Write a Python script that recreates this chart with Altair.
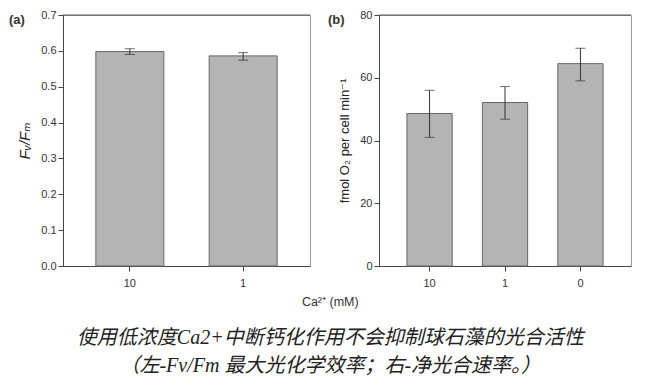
import altair as alt
import pandas as pd

# ---- data ----
ca_left = ["10", "1"]
fvfm = [0.598, 0.586]
fvfm_lo = [0.590, 0.574]
fvfm_hi = [0.606, 0.595]

ca_right = ["10", "1", "0"]
o2 = [48.6, 52.1, 64.5]
o2_lo = [41.0, 46.8, 59.0]
o2_hi = [56.0, 57.2, 69.4]

left_ticks = [0.0, 0.1, 0.2, 0.3, 0.4, 0.5, 0.6, 0.7]
right_ticks = [0, 20, 40, 60, 80]

caption = [
    "使用低浓度Ca2+中断钙化作用不会抑制球石藻的光合活性",
    "（左-Fv/Fm 最大光化学效率；右-净光合速率。）",
]

BAR_FILL = "#b4b4b4"
BAR_STROKE = "#666666"
ERR = "#333333"


def panel(cats, vals, lo, hi, ticks, domain, fmt, ytitle, tstyle, tsize, label, w, h,
          p_inner, p_outer, label_x, cap):
    df = pd.DataFrame({"ca": cats, "v": vals, "lo": lo, "hi": hi})
    base = alt.Chart(df)
    x = alt.X("ca:N", sort=cats, title=None,
              scale=alt.Scale(paddingInner=p_inner, paddingOuter=p_outer),
              axis=alt.Axis(labelAngle=0, labelPadding=6))
    yaxis = alt.Axis(values=ticks, format=fmt, title=ytitle,
                     titleFontStyle=tstyle, titleFontSize=tsize,
                     grid=False, titlePadding=8)
    yscale = alt.Scale(domain=domain, nice=False, zero=True)

    def Y(field):
        return alt.Y(field, scale=yscale, axis=yaxis, title=ytitle)

    bars = base.mark_bar(fill=BAR_FILL, stroke=BAR_STROKE, strokeWidth=1).encode(
        x=x, y=Y("v:Q"))
    rule = base.mark_rule(color=ERR, strokeWidth=1).encode(
        x=x, y=Y("lo:Q"), y2="hi:Q")
    cap_lo = base.mark_tick(color=ERR, thickness=1, size=cap).encode(x=x, y=Y("lo:Q"))
    cap_hi = base.mark_tick(color=ERR, thickness=1, size=cap).encode(x=x, y=Y("hi:Q"))
    one = alt.Chart(pd.DataFrame({"t": [label]}))
    top = one.mark_rule(color="#555555", strokeWidth=1).encode(
        x=alt.value(0), x2=alt.value(w), y=alt.value(0))
    lab = one.mark_text(font="Liberation Sans", fontSize=13, fontWeight="bold",
                        align="left", baseline="middle", color="#333333").encode(
        x=alt.value(label_x), y=alt.value(5), text="t:N")
    return alt.layer(bars, rule, cap_lo, cap_hi, top, lab).properties(width=w, height=h)


left = panel(ca_left, fvfm, fvfm_lo, fvfm_hi, left_ticks, [0, 0.7], ".1f",
             "Fᵥ/Fₘ", "italic", 15, "(a)", 247, 251, 0.4, 0.29, -54, 10)
right = panel(ca_right, o2, o2_lo, o2_hi, right_ticks, [0, 80], "d",
              "fmol O₂ per cell min⁻¹", "normal", 13, "(b)", 252, 251, 0.4, 0.37, -51, 10)

chart = alt.hconcat(left, right, spacing=16).properties(
    padding=0,
    title=alt.TitleParams(
        text="Ca²⁺ (mM)",
        subtitle=caption,
        orient="bottom",
        anchor="middle",
        font="Liberation Sans",
        fontSize=12.5,
        fontWeight="normal",
        color="#333333",
        subtitleFont="Liberation Serif, Noto Sans CJK SC",
        subtitleFontSize=20,
        subtitleFontStyle="italic",
        subtitleColor="#222222",
        subtitleLineHeight=28,
        subtitlePadding=20,
        offset=7,
        dx=10,
    )
).configure_view(stroke="#999999").configure_axis(
    labelFont="Liberation Sans",
    labelFontSize=11,
    labelColor="#333333",
    tickColor="#444444",
    domainColor="#444444",
    tickSize=5,
    titleFont="Liberation Sans, DejaVu Sans",
    titleFontWeight="normal",
    titleColor="#222222",
)

chart.save("out.html", embed_options={"renderer": "svg", "actions": False})
